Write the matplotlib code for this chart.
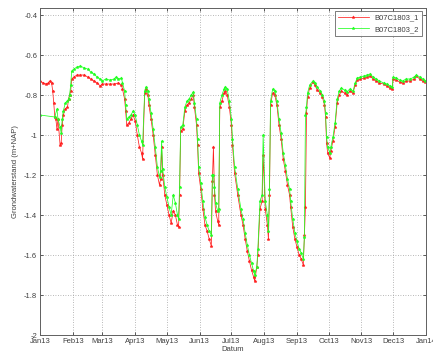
import numpy as np
import pandas as pd
import matplotlib
matplotlib.use("Agg")
import matplotlib.pyplot as plt
import matplotlib.dates as mdates

# day offsets from 2013-01-01 and levels (m+NAP)
dagen_1 = [0, 3, 6, 8, 9, 11, 12, 13, 14, 15, 16, 17, 19, 20, 21, 22, 24, 26, 27, 28,
           29, 30, 32, 35, 38, 42, 45, 48, 51, 54, 57, 59, 62, 66, 70, 74, 77, 78, 80, 81,
           82, 84, 86, 88, 90, 92, 94, 96, 97, 99, 100, 102, 103, 105, 107, 109, 111, 113, 114, 115,
           116, 118, 120, 122, 124, 126, 128, 130, 131, 132, 133, 135, 137, 139, 141, 143, 145, 146, 148, 149,
           150, 152, 154, 156, 158, 160, 162, 163, 164, 165, 166, 168, 169, 170, 172, 174, 175, 177, 179, 181,
           182, 184, 187, 190, 192, 194, 196, 198, 200, 202, 203, 205, 206, 208, 210, 211, 213, 215, 216, 217,
           218, 220, 222, 224, 226, 228, 230, 232, 234, 236, 237, 239, 241, 243, 245, 247, 249, 250, 251, 252,
           253, 255, 258, 260, 262, 265, 267, 269, 270, 271, 272, 274, 275, 277, 279, 281, 283, 285, 288, 290,
           293, 296, 298, 300, 303, 306, 309, 312, 315, 318, 321, 325, 328, 331, 333, 334, 337, 340, 343, 346,
           350, 354, 356, 359, 362, 364]
peil_1 = [-0.73, -0.74, -0.745, -0.74, -0.73, -0.74, -0.78, -0.84, -0.91, -0.92, -0.97, -0.92, -1.05, -1.04, -0.95, -0.90, -0.87, -0.86, -0.82, -0.80,
          -0.78, -0.72, -0.71, -0.70, -0.70, -0.70, -0.71, -0.72, -0.73, -0.74, -0.755, -0.745, -0.745, -0.745, -0.745, -0.74, -0.75, -0.77, -0.82, -0.88,
          -0.95, -0.94, -0.92, -0.90, -0.93, -1.00, -1.06, -1.09, -1.12, -0.79, -0.77, -0.80, -0.85, -0.92, -1.00, -1.10, -1.20, -1.25, -1.22, -1.06,
          -1.20, -1.30, -1.35, -1.40, -1.44, -1.38, -1.40, -1.45, -1.46, -1.30, -0.98, -0.97, -0.88, -0.85, -0.84, -0.82, -0.80, -0.86, -0.95, -1.05,
          -1.19, -1.27, -1.37, -1.45, -1.48, -1.52, -1.555, -1.23, -1.06, -1.30, -1.38, -1.43, -1.45, -0.86, -0.83, -0.79, -0.78, -0.80, -0.86, -0.95,
          -1.05, -1.19, -1.30, -1.40, -1.45, -1.52, -1.58, -1.63, -1.675, -1.71, -1.73, -1.66, -1.60, -1.37, -1.33, -1.10, -1.37, -1.45, -1.52, -1.30,
          -0.85, -0.79, -0.80, -0.85, -0.95, -1.02, -1.12, -1.18, -1.25, -1.30, -1.36, -1.46, -1.52, -1.56, -1.60, -1.62, -1.65, -1.50, -1.36, -0.89,
          -0.81, -0.765, -0.735, -0.75, -0.775, -0.79, -0.81, -0.85, -0.91, -1.04, -1.09, -1.115, -1.08, -1.03, -0.96, -0.84, -0.80, -0.78, -0.79, -0.80,
          -0.78, -0.79, -0.75, -0.725, -0.72, -0.715, -0.71, -0.705, -0.72, -0.73, -0.74, -0.745, -0.755, -0.765, -0.77, -0.72, -0.725, -0.735, -0.74, -0.73,
          -0.73, -0.72, -0.705, -0.72, -0.73, -0.735]

dagen_2 = [0, 14, 16, 17, 19, 20, 21, 22, 24, 26, 27, 28,
           29, 30, 32, 35, 38, 42, 45, 48, 51, 54, 57, 59, 62, 66, 70, 72, 74, 77, 78, 80, 81,
           82, 84, 86, 88, 90, 92, 94, 96, 97, 99, 100, 102, 103, 105, 107, 109, 111, 113, 114, 115,
           116, 118, 120, 122, 124, 126, 128, 130, 131, 132, 133, 135, 137, 139, 141, 143, 145, 146, 148, 149,
           150, 152, 154, 156, 158, 160, 162, 163, 164, 165, 166, 168, 169, 170, 172, 174, 175, 177, 179, 181,
           182, 184, 187, 190, 192, 194, 196, 198, 200, 202, 203, 205, 206, 208, 210, 211, 213, 215, 216, 217,
           218, 220, 222, 224, 226, 228, 230, 232, 234, 236, 237, 239, 241, 243, 245, 247, 249, 250, 251, 252,
           253, 255, 258, 260, 262, 265, 267, 269, 270, 271, 272, 274, 275, 277, 279, 281, 283, 285, 288, 290,
           293, 296, 298, 300, 303, 306, 309, 312, 315, 318, 321, 325, 328, 331, 333, 334, 337, 340, 343, 346,
           350, 354, 356, 359, 362, 364]
peil_2 = [-0.90, -0.91, -0.87, -0.92, -0.96, -0.99, -0.92, -0.88, -0.84, -0.83, -0.82, -0.80,
          -0.75, -0.68, -0.67, -0.66, -0.655, -0.665, -0.67, -0.685, -0.695, -0.71, -0.72, -0.73, -0.72, -0.725, -0.72, -0.71, -0.72, -0.715, -0.74, -0.78, -0.85,
          -0.92, -0.91, -0.90, -0.88, -0.90, -0.95, -1.00, -1.03, -1.05, -0.78, -0.76, -0.78, -0.82, -0.89, -0.97, -1.06, -1.16, -1.21, -1.18, -1.03,
          -1.17, -1.26, -1.31, -1.36, -1.40, -1.30, -1.34, -1.40, -1.42, -1.26, -0.96, -0.95, -0.86, -0.83, -0.82, -0.80, -0.785, -0.84, -0.92, -1.02,
          -1.16, -1.24, -1.33, -1.41, -1.45, -1.48, -1.50, -1.20, -1.20, -1.26, -1.34, -1.38, -1.37, -0.84, -0.80, -0.77, -0.76, -0.77, -0.83, -0.92,
          -1.02, -1.16, -1.27, -1.37, -1.42, -1.49, -1.55, -1.60, -1.64, -1.68, -1.70, -1.66, -1.57, -1.33, -1.30, -1.00, -1.33, -1.40, -1.48, -1.27,
          -0.83, -0.77, -0.78, -0.83, -0.92, -0.99, -1.09, -1.15, -1.22, -1.27, -1.33, -1.42, -1.49, -1.53, -1.57, -1.59, -1.62, -1.51, -0.90, -0.86,
          -0.79, -0.75, -0.73, -0.74, -0.76, -0.78, -0.80, -0.83, -0.89, -1.01, -1.06, -1.09, -1.06, -1.01, -0.94, -0.82, -0.78, -0.765, -0.775, -0.785,
          -0.77, -0.78, -0.74, -0.715, -0.71, -0.705, -0.70, -0.695, -0.71, -0.72, -0.73, -0.74, -0.745, -0.755, -0.76, -0.71, -0.715, -0.725, -0.73, -0.72,
          -0.72, -0.71, -0.70, -0.71, -0.72, -0.73]

namen = ["B07C1803_1", "B07C1803_2"]
maanden = pd.date_range("2013-01-01", "2014-01-01", freq="MS")
maand_labels = [d.strftime("%b%y") for d in maanden]
y_ticks = [-2, -1.8, -1.6, -1.4, -1.2, -1, -0.8, -0.6, -0.4]

start = pd.Timestamp("2013-01-01")
t1 = start + pd.to_timedelta(dagen_1, unit="D")
t2 = start + pd.to_timedelta(dagen_2, unit="D")

plt.rcParams["font.family"] = ["Liberation Sans", "DejaVu Sans"]

fig = plt.figure(figsize=(4.33, 3.56), dpi=100, facecolor="white")
ax = fig.add_axes([40 / 433, 21 / 356, 386 / 433, 327.5 / 356])

ax.plot(t1, peil_1, color="#ff2020", lw=0.55, marker="*", ms=2.2, mew=0.4, label=namen[0])
ax.plot(t2, peil_2, color="#20ff20", lw=0.55, marker="*", ms=2.2, mew=0.4, label=namen[1])

ax.set_xlim(maanden[0], maanden[-1])
ax.set_ylim(-2, -0.3625)
ax.set_xticks(maanden)
ax.set_xticklabels(maand_labels)
ax.set_yticks(y_ticks)
ax.set_yticklabels([f"{v:g}" for v in y_ticks])

ax.grid(True, linestyle=(0, (1, 2)), color="#a0a0a0", lw=0.6)
ax.tick_params(direction="in", length=2.5, width=0.6, labelsize=5.5, colors="#404040",
               top=True, right=True, pad=2)
for s in ax.spines.values():
    s.set_color("#606060")
    s.set_linewidth(0.7)

ax.set_xlabel("Datum", fontsize=5.5, color="#404040", labelpad=1)
ax.set_ylabel("Grondwaterstand (m+NAP)", fontsize=5.5, color="#404040", labelpad=4)

leg = ax.legend(loc="upper right", fontsize=5.5, frameon=True, fancybox=False,
                edgecolor="#404040", handlelength=4, borderpad=0.4, labelspacing=0.5)
leg.get_frame().set_linewidth(0.6)
for txt in leg.get_texts():
    txt.set_color("#404040")

fig.savefig("out.png", dpi=100, facecolor="white")
